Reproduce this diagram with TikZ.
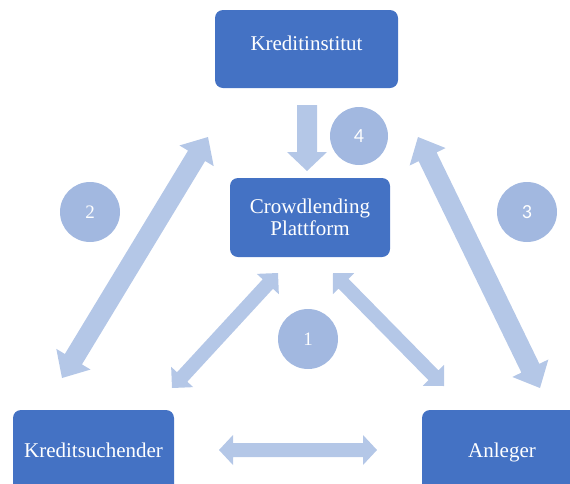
\documentclass[tikz,border=0pt]{standalone}
\usepackage{fontspec}
\setmainfont{Liberation Serif}
\newfontfamily\calibfont{Carlito}
\usetikzlibrary{calc}
\definecolor{boxblue}{HTML}{4472C4}
\definecolor{arrowblue}{HTML}{B4C7E7}
\definecolor{circblue}{HTML}{A2B8E0}
% double block arrow: #1 from, #2 to, #3 half shaft, #4 half head, #5 head length
\newcommand\blockarrowdbl[5]{%
\fill[arrowblue] (#1)
 -- ($(#1)!#5!(#2)!#4!90:(#2)$)
 -- ($(#1)!#5!(#2)!#3!90:(#2)$)
 -- ($(#2)!#5!(#1)!#3!-90:(#1)$)
 -- ($(#2)!#5!(#1)!#4!-90:(#1)$)
 -- (#2)
 -- ($(#2)!#5!(#1)!#4!90:(#1)$)
 -- ($(#2)!#5!(#1)!#3!90:(#1)$)
 -- ($(#1)!#5!(#2)!#3!-90:(#2)$)
 -- ($(#1)!#5!(#2)!#4!-90:(#2)$)
 -- cycle;}
% single block arrow, tip at #2
\newcommand\blockarrowone[5]{%
\fill[arrowblue] ($(#1)!#3!90:(#2)$)
 -- ($(#2)!#5!(#1)!#3!-90:(#1)$)
 -- ($(#2)!#5!(#1)!#4!-90:(#1)$)
 -- (#2)
 -- ($(#2)!#5!(#1)!#4!90:(#1)$)
 -- ($(#2)!#5!(#1)!#3!90:(#1)$)
 -- ($(#1)!#3!-90:(#2)$)
 -- cycle;}
\tikzset{
  box/.style={fill=boxblue, rounded corners=8pt, text=white, inner xsep=0pt,
    font=\fontsize{21}{22}\selectfont},
  circ/.style={circle, fill=circblue, minimum size=60pt, inner sep=0pt, text=white,
    font=\fontsize{19}{19}\selectfont},
}
\begin{document}
\begin{tikzpicture}[x=1pt,y=-1pt]
\useasboundingbox (0,0) rectangle (570,483);
% boxes
\node[box, anchor=base, minimum width=183pt, inner ysep=0pt, text height=40pt, text depth=38pt]
  (ki) at (306.5,50) {Kreditinstitut};
\node[box, minimum width=160pt, minimum height=79pt, align=center]
  (cp) at (310,217.5) {Crowdlending\\Plattform};
\node[box, anchor=base, minimum width=161pt, inner ysep=0pt, text height=47pt, text depth=40pt]
  (ks) at (93.5,457) {Kreditsuchender};
\node[box, anchor=base, minimum width=160pt, inner ysep=0pt, text height=47pt, text depth=40pt]
  (an) at (502,457) {Anleger};
% circles
\node[circ] (c1) at (308,339) {1};
\node[circ] (c2) at (90,212) {2};
\node[circ, font=\calibfont\fontsize{20}{20}\selectfont] (c3) at (527,212) {3};
\node[circ, minimum size=58pt, font=\calibfont\fontsize{20}{20}\selectfont] (c4) at (359,136) {4};
% arrow end points
\coordinate (a4s) at (307,105);
\coordinate (a4e) at (307,171);
\coordinate (a2s) at (62,378);
\coordinate (a2e) at (208,137);
\coordinate (a3s) at (418,137);
\coordinate (a3e) at (540,388);
\coordinate (a1ls) at (172,388);
\coordinate (a1le) at (278,273);
\coordinate (a1rs) at (333,273);
\coordinate (a1re) at (444,386);
\coordinate (ahs) at (219,450);
\coordinate (ahe) at (377,450);
% arrows
\blockarrowone{a4s}{a4e}{10pt}{20pt}{19pt}
\blockarrowdbl{a2s}{a2e}{10pt}{20pt}{22pt}
\blockarrowdbl{a3s}{a3e}{10pt}{20pt}{22pt}
\blockarrowdbl{a1ls}{a1le}{7pt}{15pt}{15pt}
\blockarrowdbl{a1rs}{a1re}{7pt}{15pt}{15pt}
\blockarrowdbl{ahs}{ahe}{7pt}{15pt}{14pt}
\end{tikzpicture}
\end{document}
